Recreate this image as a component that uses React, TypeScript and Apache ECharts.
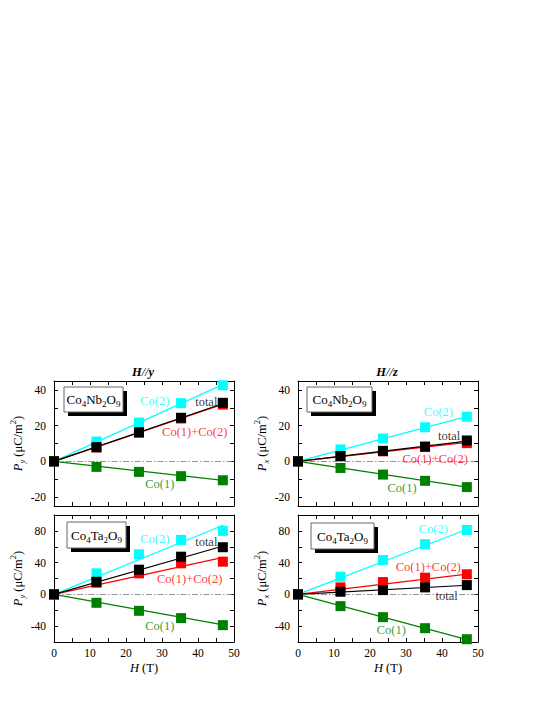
import React, { useEffect, useRef } from "react";
import * as echarts from "echarts";

const FONT = "Liberation Serif";

// magnetic field (T)
const fieldT = [0, 11.8, 23.6, 35.3, 46.9];
const fitX = [0, 47];

// Co4Nb2O9, H//y  (P_y)
const nbYCo2 = [0, 11.1, 21.7, 32.6, 42.6];
const nbYTotal = [0, 7.9, 16.3, 24.4, 32.8];
const nbYSum = [0, 7.8, 16.0, 24.0, 31.8];
const nbYCo1 = [0, -3.1, -5.9, -8.3, -10.6];
const nbYFitCo2 = [0, 43.1];
const nbYFitTotal = [0, 32.4];
const nbYFitSum = [0, 32.0];
const nbYFitCo1 = [0, -10.6];

// Co4Nb2O9, H//z  (P_x)
const nbZCo2 = [0, 6.7, 12.8, 19.1, 25.0];
const nbZTotal = [0, 3.0, 5.9, 8.3, 11.7];
const nbZSum = [0, 2.8, 5.6, 8.0, 10.2];
const nbZCo1 = [0, -3.7, -7.4, -10.9, -14.4];
const nbZFitCo2 = [0, 25.2];
const nbZFitTotal = [0, 11.3];
const nbZFitSum = [0, 10.6];
const nbZFitCo1 = [0, -14.4];

// Co4Ta2O9, H//y  (P_y)
const taYCo2 = [0, 26.5, 50.5, 68.6, 80.0];
const taYTotal = [0, 15.9, 31.1, 47.5, 59.4];
const taYSum = [0, 14.6, 26.5, 39.1, 41.2];
const taYCo1 = [0, -10.6, -20.7, -29.9, -38.8];
const taYFitCo2 = [0, 87.0];
const taYFitTotal = [0, 61.0];
const taYFitSum = [0, 46.7];
const taYFitCo1 = [0, -38.5];

// Co4Ta2O9, H//z  (P_x)
const taZCo2 = [0, 22.3, 43.3, 63.2, 81.2];
const taZTotal = [0, 3.3, 5.4, 8.8, 11.7];
const taZSum = [0, 8.8, 15.5, 21.0, 25.3];
const taZCo1 = [0, -14.8, -28.7, -42.6, -56.5];
const taZFitCo2 = [0, 82.0];
const taZFitTotal = [0, 11.5];
const taZFitSum = [0, 25.5];
const taZFitCo1 = [0, -57.0];

// axis ticks
const yTicksNb = [-20, -10, 0, 10, 20, 30, 40];
const yLabelsNb = [-20, 0, 20, 40];
const yTicksTa = [-40, -20, 0, 20, 40, 60, 80];
const yLabelsTa = [-40, 0, 40, 80];

// annotation label positions [x, y] in data units
const annNbY = [[28.0, 33.9], [42.3, 33.3], [39.1, 16.3], [29.4, -12.8]];
const annNbZ = [[39.0, 27.9], [42.0, 14.1], [38.1, 1.5], [28.9, -14.8]];
const annTaY = [[28.0, 69.5], [42.3, 66.0], [37.7, 19.0], [29.4, -40.0]];
const annTaZ = [[37.6, 82.0], [41.3, -2.0], [36.2, 35.0], [25.9, -45.0]];
const annNames = ["Co(2)", "total", "Co(1)+Co(2)", "Co(1)"];

const C_CO2 = "#00ffff";
const C_TOT = "#000000";
const C_SUM = "#ff0000";
const C_CO1 = "#008000";
const annColors = [C_CO2, C_TOT, C_SUM, C_CO1];

const panels = [
  {
    grid: { left: 54, top: 381, width: 180, height: 125 },
    yMin: -25, yMax: 45, ticks: yTicksNb, labels: yLabelsNb, sub: "y", showX: false,
    pts: [nbYCo2, nbYSum, nbYCo1, nbYTotal],
    fits: [nbYFitCo2, nbYFitSum, nbYFitCo1, nbYFitTotal],
    ann: annNbY,
  },
  {
    grid: { left: 298, top: 381, width: 180, height: 125 },
    yMin: -25, yMax: 45, ticks: yTicksNb, labels: yLabelsNb, sub: "x", showX: false,
    pts: [nbZCo2, nbZSum, nbZCo1, nbZTotal],
    fits: [nbZFitCo2, nbZFitSum, nbZFitCo1, nbZFitTotal],
    ann: annNbZ,
  },
  {
    grid: { left: 54, top: 515, width: 180, height: 127 },
    yMin: -60, yMax: 100, ticks: yTicksTa, labels: yLabelsTa, sub: "y", showX: true,
    pts: [taYCo2, taYSum, taYCo1, taYTotal],
    fits: [taYFitCo2, taYFitSum, taYFitCo1, taYFitTotal],
    ann: annTaY,
  },
  {
    grid: { left: 298, top: 515, width: 180, height: 127 },
    yMin: -60, yMax: 100, ticks: yTicksTa, labels: yLabelsTa, sub: "x", showX: true,
    pts: [taZCo2, taZSum, taZCo1, taZTotal],
    fits: [taZFitCo2, taZFitSum, taZFitCo1, taZFitTotal],
    ann: annTaZ,
  },
];
const ptColors = [C_CO2, C_SUM, C_CO1, C_TOT];

const boxes = [
  { x: 64, y: 387, w: 59, h: 25, m: "Nb" },
  { x: 307, y: 387, w: 65, h: 25, m: "Nb" },
  { x: 67, y: 522, w: 59, h: 26, m: "Ta" },
  { x: 311, y: 523, w: 63, h: 26, m: "Ta" },
];

const richMain = {
  m: { fontFamily: FONT, fontSize: 13, lineHeight: 18, color: "#000" },
  s: { fontFamily: FONT, fontSize: 9, lineHeight: 9, verticalAlign: "bottom", color: "#000" },
};

function buildOption() {
  const grid: any[] = [];
  const xAxis: any[] = [];
  const yAxis: any[] = [];
  const series: any[] = [];
  const axisLine = { show: true, onZero: false, lineStyle: { color: "#000", width: 1 } };
  const tick = { show: true, inside: true, length: 4, lineStyle: { color: "#000", width: 1 } };

  panels.forEach((p, i) => {
    grid.push({ ...p.grid, containLabel: false });
    const xi = xAxis.length;
    xAxis.push({
      type: "value", gridIndex: i, position: "bottom", min: 0, max: 50, interval: 10,
      axisLine, axisTick: tick,
      minorTick: { show: true, splitNumber: 2, length: 4, lineStyle: { color: "#000", width: 1 } },
      splitLine: { show: false }, minorSplitLine: { show: false },
      axisLabel: { show: p.showX, margin: 5, color: "#000", fontFamily: FONT, fontSize: 11.5 },
      name: p.showX ? "{i|H}{m| (T)}" : "",
      nameLocation: "middle", nameGap: 19,
      nameTextStyle: {
        color: "#000", fontFamily: FONT, fontSize: 12,
        rich: {
          i: { fontFamily: FONT, fontSize: 12.5, fontStyle: "italic", color: "#000" },
          m: { fontFamily: FONT, fontSize: 12.5, color: "#000" },
        },
      },
    });
    xAxis.push({
      type: "value", gridIndex: i, position: "top", min: 0, max: 50, interval: 10,
      axisLine, axisTick: tick,
      minorTick: { show: true, splitNumber: 2, length: 4, lineStyle: { color: "#000", width: 1 } },
      splitLine: { show: false }, axisLabel: { show: false },
    });
    const yi = yAxis.length;
    yAxis.push({
      type: "value", gridIndex: i, position: "left", min: p.yMin, max: p.yMax,
      axisLine,
      axisTick: { ...tick, customValues: p.ticks },
      splitLine: { show: false },
      axisLabel: {
        show: true, customValues: p.labels, margin: 8, color: "#000", fontFamily: FONT, fontSize: 11.5,
      },
      name: "{i|P}{s|" + p.sub + "}{m| (μC/m}{p|2}{m|)}",
      nameLocation: "middle", nameGap: 18,
      nameTextStyle: {
        color: "#000", fontFamily: FONT, fontSize: 12.5,
        rich: {
          i: { fontFamily: FONT, fontSize: 12.5, fontStyle: "italic", lineHeight: 18, color: "#000" },
          m: { fontFamily: FONT, fontSize: 12.5, lineHeight: 18, color: "#000" },
          s: { fontFamily: FONT, fontSize: 8.5, fontStyle: "italic", lineHeight: 9, verticalAlign: "bottom", color: "#000" },
          p: { fontFamily: FONT, fontSize: 8.5, lineHeight: 9, verticalAlign: "top", color: "#000" },
        },
      },
    });
    yAxis.push({
      type: "value", gridIndex: i, position: "right", min: p.yMin, max: p.yMax,
      axisLine,
      axisTick: { ...tick, customValues: p.ticks },
      splitLine: { show: false },
      axisLabel: { show: false },
    });

    // fit lines
    p.fits.forEach((f, k) => {
      const s: any = {
        type: "line", xAxisIndex: xi, yAxisIndex: yi, showSymbol: false, symbol: "none",
        data: fitX.map((x, j) => [x, f[j]]),
        lineStyle: { color: ptColors[k], width: 1.2 }, z: 2, silent: true,
      };
      if (k === 0) {
        s.markLine = {
          silent: true, symbol: ["none", "none"], label: { show: false },
          lineStyle: { color: "#777", type: [6, 2, 1.5, 2], width: 0.8 },
          data: [{ yAxis: 0 }],
        };
      }
      series.push(s);
    });
    // points
    p.pts.forEach((arr, k) => {
      series.push({
        type: "scatter", xAxisIndex: xi, yAxisIndex: yi, symbol: "rect", symbolSize: 10,
        data: fieldT.map((x, j) => [x, arr[j]]),
        itemStyle: { color: ptColors[k], opacity: 1 }, z: 3 + k, silent: true,
      });
    });
    // annotations
    series.push({
      type: "scatter", xAxisIndex: xi, yAxisIndex: yi, symbolSize: 1, silent: true, z: 10,
      itemStyle: { color: "rgba(0,0,0,0)" },
      data: p.ann.map((a, j) => ({
        name: annNames[j], value: a,
        label: { color: annColors[j] },
      })),
      label: {
        show: true, position: "inside", formatter: "{b}", fontFamily: FONT, fontSize: 12.5,
      },
    });
  });

  const graphic: any[] = [];
  boxes.forEach((b) => {
    graphic.push({ type: "rect", shape: { x: b.x + 4, y: b.y + 4, width: b.w, height: b.h }, style: { fill: "#000" }, z: 20 });
    graphic.push({ type: "rect", shape: { x: b.x, y: b.y, width: b.w, height: b.h }, style: { fill: "#fff", stroke: "#666", lineWidth: 1 }, z: 21 });
    graphic.push({
      type: "text", x: b.x + b.w / 2, y: b.y + b.h / 2, z: 22,
      style: {
        text: "{m|Co}{s|4}{m|" + b.m + "}{s|2}{m|O}{s|9}",
        rich: richMain, align: "center", verticalAlign: "middle",
      },
    });
  });
  const titleRich = {
    b: { fontFamily: FONT, fontSize: 12.5, fontStyle: "italic", fontWeight: "bold", color: "#000" },
    n: { fontFamily: FONT, fontSize: 12.5, fontStyle: "italic", color: "#000" },
  };
  graphic.push({ type: "text", x: 143, y: 372, z: 22, style: { text: "{b|H}{n|//}{b|y}", rich: titleRich, align: "center", verticalAlign: "middle" } });
  graphic.push({ type: "text", x: 387, y: 372, z: 22, style: { text: "{b|H}{n|//}{b|z}", rich: titleRich, align: "center", verticalAlign: "middle" } });

  return {
    animation: false,
    backgroundColor: "#fff",
    textStyle: { fontFamily: FONT },
    grid, xAxis, yAxis, series, graphic,
  };
}

export default function App() {
  const ref = useRef<HTMLDivElement>(null);
  useEffect(() => {
    if (!ref.current) return;
    const chart = echarts.init(ref.current, null, { renderer: "svg" });
    chart.setOption(buildOption() as any);
    return () => chart.dispose();
  }, []);
  return (
    <div
      ref={ref}
      style={{ position: "fixed", left: 0, top: 0, width: 545, height: 705 }}
    />
  );
}
